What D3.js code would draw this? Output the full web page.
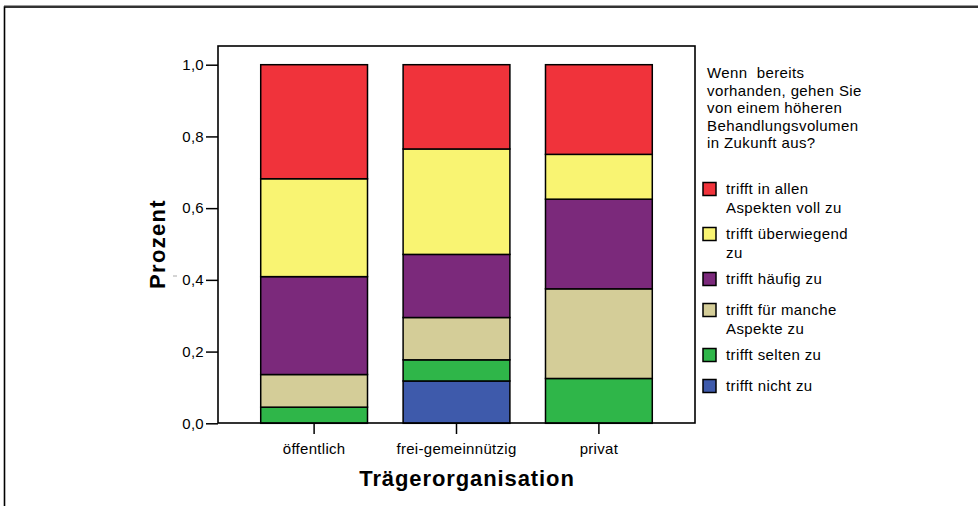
<!DOCTYPE html>
<html>
<head>
<meta charset="utf-8">
<script src="https://cdn.jsdelivr.net/npm/d3@7"></script>
<style>
  body { margin: 0; background: #fff; }
  svg { display: block; font-family: "Liberation Sans", Arial, sans-serif; }
  .axis text { font-size: 15px; letter-spacing: 0.3px; fill: #000; }
  .axis line { stroke: #000; stroke-width: 1.5px; }
</style>
</head>
<body>
<div id="chart"></div>
<script>
// Data (share of answers per organisation)
const categories = ["öffentlich", "frei-gemeinnützig", "privat"];
const answers = ["nicht", "selten", "manche", "haeufig", "ueberwiegend", "allen"]; // bottom -> top
const nicht        = [0,     0.118, 0];
const selten       = [0.045, 0.059, 0.125];
const manche       = [0.091, 0.118, 0.25];
const haeufig      = [0.273, 0.176, 0.25];
const ueberwiegend = [0.273, 0.294, 0.125];
const allen        = [0.318, 0.235, 0.25];
const yTicks = [0, 0.2, 0.4, 0.6, 0.8, 1.0];

const legendTitle = ["Wenn  bereits", "vorhanden, gehen Sie", "von einem höheren", "Behandlungsvolumen", "in Zukunft aus?"];
const legendLabels = {
  allen: ["trifft in allen", "Aspekten voll zu"],
  ueberwiegend: ["trifft überwiegend", "zu"],
  haeufig: ["trifft häufig zu"],
  manche: ["trifft für manche", "Aspekte zu"],
  selten: ["trifft selten zu"],
  nicht: ["trifft nicht zu"]
};
const colors = {
  allen: "#f0333b", ueberwiegend: "#f9f472", haeufig: "#7b297b",
  manche: "#d4cd98", selten: "#2fb649", nicht: "#3e5aab"
};

const width = 978, height = 506;
const frame = { left: 218, top: 46, right: 695, bottom: 423 };

// Build rows for d3.stack
const series = { nicht, selten, manche, haeufig, ueberwiegend, allen };
const rows = categories.map((c, i) => {
  const r = { cat: c };
  answers.forEach(a => r[a] = series[a][i]);
  return r;
});

const svg = d3.select("#chart")
  .append("svg")
    .attr("width", width)
    .attr("height", height);

// Outer frame (right and bottom edges run off the picture)
svg.append("rect")
  .attr("x", 4.5).attr("y", 7)
  .attr("width", width + 20).attr("height", height + 20)
  .attr("fill", "none").attr("stroke", "#000").attr("stroke-width", 1.6);
svg.append("line")
  .attr("x1", 4).attr("x2", width).attr("y1", 5.5).attr("y2", 5.5)
  .attr("stroke", "#999").attr("stroke-width", 1);

/****************************/
/*    Declare the scales    */
/****************************/
const xScale = d3.scaleBand()
  .domain(categories)
  .range([frame.left, frame.right])
  .paddingInner(0.25)
  .paddingOuter(0.3);

const yScale = d3.scaleLinear()
  .domain([0, 1])
  .range([423.3, 64.7]);

/****************************/
/*       Stacked bars       */
/****************************/
const stacked = d3.stack().keys(answers)(rows);

svg.append("g")
  .selectAll("g")
  .data(stacked)
  .join("g")
    .attr("fill", d => colors[d.key])
  .selectAll("rect")
  .data(d => d.filter(s => s[1] - s[0] > 0))
  .join("rect")
    .attr("x", d => xScale(d.data.cat))
    .attr("y", d => yScale(d[1]))
    .attr("width", xScale.bandwidth())
    .attr("height", d => yScale(d[0]) - yScale(d[1]))
    .attr("stroke", "#000")
    .attr("stroke-width", 1.5);

// Plot frame
svg.append("rect")
  .attr("x", frame.left).attr("y", frame.top)
  .attr("width", frame.right - frame.left)
  .attr("height", frame.bottom - frame.top)
  .attr("fill", "none").attr("stroke", "#000").attr("stroke-width", 1.6);

/***************************/
/*     Append the axes     */
/***************************/
const leftAxis = d3.axisLeft(yScale)
  .tickValues(yTicks)
  .tickFormat(d => d3.format(".1f")(d).replace(".", ","))
  .tickSize(12)
  .tickSizeOuter(0)
  .tickPadding(2);
svg.append("g")
    .attr("class", "axis")
    .attr("transform", `translate(${frame.left}, 0)`)
    .call(leftAxis)
    .call(g => g.select(".domain").remove());

const bottomAxis = d3.axisBottom(xScale)
  .tickSize(11)
  .tickSizeOuter(0)
  .tickPadding(9);
svg.append("g")
    .attr("class", "axis")
    .attr("transform", `translate(0, ${frame.bottom})`)
    .call(bottomAxis)
    .call(g => g.select(".domain").remove());

// small stray mark near 0,4
svg.append("line")
  .attr("x1", 173).attr("x2", 177).attr("y1", 276).attr("y2", 276)
  .attr("stroke", "#aaa").attr("stroke-width", 1);

// Axis labels
svg.append("text")
  .text("Trägerorganisation")
  .attr("x", 467).attr("y", 486)
  .attr("text-anchor", "middle")
  .style("font-size", "22px")
  .style("font-weight", "bold")
  .style("letter-spacing", "0.9px");

svg.append("text")
  .text("Prozent")
  .attr("transform", "translate(165, 244) rotate(-90)")
  .attr("text-anchor", "middle")
  .style("font-size", "22px")
  .style("font-weight", "bold")
  .style("letter-spacing", "1.3px");

/***************************/
/*         Legend          */
/***************************/
const legend = svg.append("g").style("font-size", "15px").style("letter-spacing", "0.4px");

legend.selectAll(".title")
  .data(legendTitle)
  .join("text")
    .attr("class", "title")
    .attr("x", 707)
    .attr("y", (d, i) => 78 + i * 17.6)
    .style("white-space", "pre")
    .text(d => d);

const legendOrder = answers.slice().reverse();
let ly = 182.5;
legendOrder.forEach(key => {
  const lines = legendLabels[key];
  legend.append("rect")
    .attr("x", 703).attr("y", ly)
    .attr("width", 13).attr("height", 13)
    .attr("fill", colors[key])
    .attr("stroke", "#000").attr("stroke-width", 1.5);
  lines.forEach((t, j) => {
    legend.append("text")
      .attr("x", 726)
      .attr("y", ly + 11.5 + j * 19)
      .text(t);
  });
  ly += lines.length > 1 ? 45 : 31;
});
</script>
</body>
</html>
